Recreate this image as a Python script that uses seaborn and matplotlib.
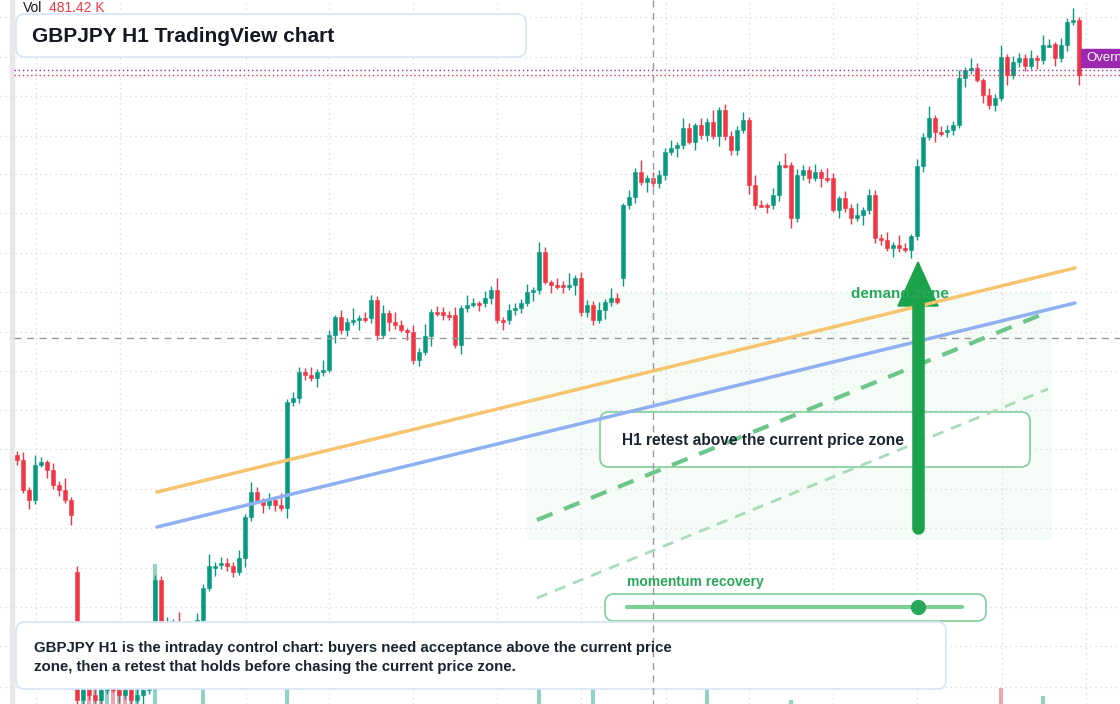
import numpy as np
import pandas as pd
import seaborn as sns
import matplotlib
matplotlib.use("Agg")
import matplotlib.pyplot as plt
from matplotlib.patches import FancyBboxPatch, Rectangle, Polygon

sns.set_theme(style="white")
plt.rcParams['font.family'] = ['Liberation Sans', 'DejaVu Sans']

# chart level values (screen-level scale, smaller = higher price)
close = [460,490,500,465,462,470,485,490,500,515,
         700,690,695,700,690,685,690,695,690,700,695,690,685,
         580,640,625,622,630,628,625,620,588,566,565,563,566,572,558,517,492,
         500,505,500,505,508,402,398,372,375,378,372,370,335,317,330,322,320,318,318,300,
         335,313,322,325,330,332,360,352,336,312,312,315,315,345,308,305,303,303,298,290,
         320,320,310,308,303,292,290,252,282,285,285,287,285,278,312,305,320,310,302,298,
         302,205,197,172,182,178,183,175,152,148,145,128,142,125,135,122,136,110,136,150,
         130,120,185,205,205,205,195,165,165,218,175,170,178,172,178,178,210,198,208,218,
         215,210,195,238,240,248,245,248,250,236,166,137,118,132,132,130,125,78,70,68,
         80,95,105,98,57,75,62,58,66,58,60,45,44,58,45,22,20,75]
open_ = [455] + close[:-1]
open_[10] = 572
open_[101] = 278
wick_up = [4,8,3,10,5,2,7,4,12,3,6,5]
wick_dn = [5,3,9,4,2,8,4,6,3,10,4,5]
volume = [0]*178
for k, v in {11: 45, 12: 30, 13: 50, 14: 25, 15: 40, 16: 35, 17: 20, 18: 30, 19: 15, 20: 25,
             23: 140, 31: 14, 45: 29, 87: 16, 96: 26, 115: 14, 129: 4, 164: 16, 171: 8}.items():
    volume[k] = v
vol_red = {10, 12, 14, 16, 18, 164}

n = len(close)
df = pd.DataFrame({"i": np.arange(n), "o": open_, "c": close, "v": volume[:n]})
df["hi"] = np.minimum(df.o, df.c) - np.resize(wick_up, n)
df["lo"] = np.maximum(df.o, df.c) + np.resize(wick_dn, n)
df["up"] = df.c < df.o

fig = plt.figure(figsize=(11.2, 7.04), dpi=100)
fig.patch.set_facecolor("white")
gax = fig.add_axes([0, 0, 1, 1])
gax.set_xlim(0, 1120); gax.set_ylim(704, 0); gax.axis("off")
for x in [36, 120, 246, 329, 413, 497, 581, 666, 749, 833, 917, 1002, 1086]:
    gax.axvline(x, color="#d9d9d9", lw=0.9, ls=(0, (1, 3)))
for y in [17, 57, 96, 136, 174, 213, 253, 292, 332, 371, 410, 449, 489, 528, 568, 607, 646, 687]:
    gax.axhline(y, color="#d9d9d9", lw=0.9, ls=(0, (1, 3)))
gax.add_patch(Rectangle((10, 0), 4, 704, color="#e8e8e8"))
gax.add_patch(Rectangle((527, 293), 525, 247, color="#e9f7ec", alpha=0.45, lw=0))

ax = fig.add_axes([0, 0, 1, 1])
ax.patch.set_alpha(0)
ax.set_xlim(-17 / 6, 1103 / 6)
ax.set_ylim(704, 0)
ax.axis("off")

GREEN, RED = "#089981", "#f23645"
cols = np.where(df.up, GREEN, RED)
vcols = ["#f7a1a8" if i in vol_red else "#8fd3c7" for i in df.i]
ax.bar(df.i, -df.v, bottom=704, width=0.8, color=vcols, zorder=1, lw=0)
ax.vlines(df.i, df.hi, df.lo, colors=cols, lw=1, zorder=3)
body_h = (df.c - df.o).where((df.c - df.o).abs() > 1.5, 1.5)
ax.bar(df.i, body_h, bottom=df.o, width=0.8, color=cols, edgecolor=cols, lw=0.4, zorder=4)

ov = fig.add_axes([0, 0, 1, 1])
ov.set_xlim(0, 1120); ov.set_ylim(704, 0); ov.axis("off"); ov.patch.set_alpha(0)

ov.plot([14, 1120], [338, 338], color="#9a9a9a", lw=1, ls=(0, (5, 4)))
ov.plot([653, 653], [0, 704], color="#9a9a9a", lw=1, ls=(0, (5, 4)))
ov.plot([14, 1120], [70, 70], color="#9c27b0", lw=1, ls=(0, (1, 2)))
ov.plot([14, 1120], [75, 75], color="#f23645", lw=1, ls=(0, (1, 2)))
ov.add_patch(Rectangle((1081, 49), 40, 18, color="#9c27b0"))
ov.text(1086, 58, "Overni", color="white", fontsize=9.5, va="center")

ov.plot([157, 1075], [492, 268], color="#f6c46e", lw=2.5, solid_capstyle="round")
ov.plot([157, 1075], [527, 303], color="#8fb0f0", lw=2.5, solid_capstyle="round")
ov.plot([537, 1048], [520, 312], color="#6cc58a", lw=3, ls=(0, (4, 3)))
ov.plot([537, 1048], [598, 389], color="#a8dcb8", lw=2, ls=(0, (4, 3)))

ov.text(851, 294, "demand zone", color="#27a85a", fontsize=11, fontweight="bold", va="center")
ov.plot([918, 918], [528, 300], color="#1aa34a", lw=9, solid_capstyle="round")
ov.add_patch(Polygon([(898, 306), (938, 306), (918, 262)], color="#1aa34a"))

def box(x0, y0, x1, y1, ec, fc="white", alpha=1.0):
    ov.add_patch(FancyBboxPatch((x0, y0), x1 - x0, y1 - y0, boxstyle="round,pad=0,rounding_size=9",
                                fc=fc, ec=ec, lw=1.2, alpha=alpha))

box(600, 412, 1030, 467, "#7fd09a")
ov.text(622, 441, "H1 retest above the current price zone", fontsize=11.2, fontweight="bold",
        color="#1a2433", va="center")
ov.text(627, 582, "momentum recovery", fontsize=10, fontweight="bold", color="#27a85a", va="center")
box(605, 594, 986, 621, "#7fd09a")
ov.plot([627, 962], [607, 607], color="#7fcf98", lw=3, solid_capstyle="round")
ov.plot([918], [607], "o", ms=10, color="#27a85a")

box(16, 14, 526, 57, "#d8e4f8")
ov.text(32, 36, "GBPJPY H1 TradingView chart", fontsize=15, fontweight="bold", color="#131722", va="center")
ov.text(23, 8, "Vol", fontsize=10, color="#131722", va="center")
ov.text(49, 8, "481.42 K", fontsize=10, color="#f23645", va="center")

box(16, 622, 946, 689, "#d8e4f8", fc=(1, 1, 1, 0.85))
ov.text(34, 648, "GBPJPY H1 is the intraday control chart: buyers need acceptance above the current price",
        fontsize=10.8, fontweight="bold", color="#1a2433", va="center")
ov.text(34, 667, "zone, then a retest that holds before chasing the current price zone.",
        fontsize=10.8, fontweight="bold", color="#1a2433", va="center")

fig.savefig("out.png", dpi=100, facecolor="white")
